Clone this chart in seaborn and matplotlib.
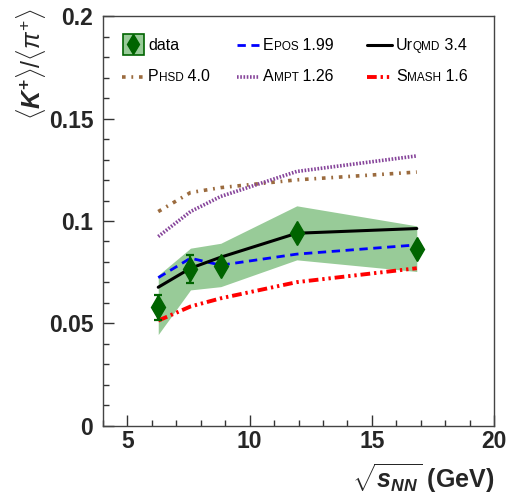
import numpy as np
import pandas as pd
import matplotlib
matplotlib.use("Agg")
import matplotlib.pyplot as plt
import seaborn as sns
from matplotlib.ticker import MultipleLocator, FuncFormatter
from matplotlib.offsetbox import TextArea, HPacker, AnnotationBbox
from matplotlib.patches import Rectangle

# beam energies (sqrt s_NN, GeV) as placed in the picture
energy = [6.26, 7.58, 8.82, 11.93, 16.84]

# measured K+/pi+ with stat errors and systematic band
data_ratio = [0.0578, 0.0764, 0.0782, 0.0940, 0.0864]
data_stat = [0.0060, 0.0068, 0.0015, 0.0015, 0.0015]
band_low = [0.0445, 0.0663, 0.0679, 0.0810, 0.0753]
band_high = [0.0735, 0.0867, 0.0891, 0.1074, 0.0976]

# model curves
urqmd = [0.0676, 0.0769, 0.0823, 0.0940, 0.0963]
epos = [0.0723, 0.0818, 0.0784, 0.0838, 0.0883]
smash = [0.0513, 0.0582, 0.0622, 0.0701, 0.0769]
phsd = [0.1046, 0.1139, 0.1163, 0.1201, 0.1239]
ampt = [0.0924, 0.1046, 0.1120, 0.1242, 0.1318]

sns.set_style("ticks")
plt.rcParams['font.family'] = ['Liberation Sans', 'DejaVu Sans']
plt.rcParams['mathtext.fontset'] = 'custom'
plt.rcParams['mathtext.rm'] = 'Liberation Sans'
plt.rcParams['mathtext.it'] = 'Liberation Sans:italic'
plt.rcParams['mathtext.bf'] = 'Liberation Sans:bold'
plt.rcParams['mathtext.bfit'] = 'Liberation Sans:italic:bold'

fig = plt.figure(figsize=(5.1, 4.96), dpi=100)
ax = fig.add_axes([0.202, 0.142, 0.7666, 0.825])

band_green = '#98cb98'
dark_green = '#006400'

ax.fill_between(energy, band_low, band_high, color=band_green, lw=0, zorder=1)

models = pd.DataFrame({'energy': energy, 'urqmd': urqmd, 'epos': epos,
                       'smash': smash, 'phsd': phsd, 'ampt': ampt})
styles = {
    'phsd': dict(color='#9b6b3e', lw=2.6, ls=(0, (1.0, 1.6, 0.5, 1.6))),
    'ampt': dict(color='#86449a', lw=2.6, ls=(0, (0.45, 0.45))),
    'smash': dict(color='#ff0000', lw=2.8, ls=(0, (2.5, 1.0, 0.6, 1.0, 0.6, 1.0))),
    'epos': dict(color='#0000ff', lw=2.0, ls=(0, (3.0, 2.0))),
    'urqmd': dict(color='black', lw=2.2, ls='-'),
}
for key, st in styles.items():
    sns.lineplot(data=models, x='energy', y=key, ax=ax, estimator=None, sort=False,
                 color=st['color'], lw=st['lw'], zorder=2)
    ax.lines[-1].set_linestyle(st['ls'])

ax.errorbar(energy, data_ratio, yerr=data_stat, fmt='d', color=dark_green,
            ms=12, capsize=3, elinewidth=1.6, capthick=1.6, zorder=4)

ax.set_xlim(4, 20)
ax.set_ylim(0, 0.2)
ax.xaxis.set_major_locator(MultipleLocator(5))
ax.xaxis.set_minor_locator(MultipleLocator(1))
ax.yaxis.set_major_locator(MultipleLocator(0.05))
ax.yaxis.set_minor_locator(MultipleLocator(0.01))
ax.yaxis.set_major_formatter(FuncFormatter(lambda v, p: '%g' % round(v, 3)))
ax.tick_params(which='both', direction='in', top=False, right=False,
               labelsize=16.5, width=1, color='#333333')
ax.tick_params(which='major', length=8)
ax.tick_params(which='minor', length=4)
ax.tick_params(axis='y', which='major', pad=7)
for lab in ax.get_xticklabels() + ax.get_yticklabels():
    lab.set_fontweight('bold')
for sp in ax.spines.values():
    sp.set_color('#444444')
    sp.set_linewidth(1)

ax.set_xlabel(r'$\sqrt{\mathbfit{s}_{\mathbfit{NN}}}$ (GeV)', fontsize=18,
              fontweight='bold', loc='right')
ax.set_ylabel(r'$\langle\mathbfit{K}^{\mathbf{+}}\rangle/\langle\pi^{+}\rangle$',
              fontsize=18, loc='top')
ax.yaxis.set_label_coords(-0.14, 1.02)
ax.xaxis.set_label_coords(1.0, -0.088)

# legend drawn by hand: small-caps model names
def entry_label(parts, x, y):
    boxes = [TextArea(t, textprops=dict(size=s, color='black')) for t, s in parts]
    pack = HPacker(children=boxes, align='baseline', pad=0, sep=0)
    ab = AnnotationBbox(pack, (x, y), xycoords='axes fraction', box_alignment=(0, 0.5),
                        frameon=False, pad=0)
    ax.add_artist(ab)

big, small = 11.5, 8.5
row1, row2 = 0.930, 0.852
cols = [(0.048, 0.105, 0.115), (0.342, 0.399, 0.409), (0.674, 0.739, 0.749)]

ax.add_patch(Rectangle((0.050, 0.906), 0.055, 0.052, transform=ax.transAxes,
                       facecolor=band_green, edgecolor=dark_green, lw=1.2, zorder=5))
ax.plot([0.0775], [0.932], 'd', color=dark_green, ms=10, transform=ax.transAxes, zorder=6)
entry_label([('data', big)], cols[0][2], row1)

legend_rows = [
    ('epos', cols[1], row1, [('E', big), ('POS', small), (' 1.99', big)]),
    ('urqmd', cols[2], row1, [('Ur', big), ('QMD', small), (' 3.4', big)]),
    ('phsd', cols[0], row2, [('P', big), ('HSD', small), (' 4.0', big)]),
    ('ampt', cols[1], row2, [('A', big), ('MPT', small), (' 1.26', big)]),
    ('smash', cols[2], row2, [('S', big), ('MASH', small), (' 1.6', big)]),
]
for key, (x0, x1, xt), yy, parts in legend_rows:
    st = styles[key]
    ax.plot([x0, x1], [yy, yy], color=st['color'], lw=st['lw'], ls=st['ls'],
            transform=ax.transAxes, zorder=5)
    entry_label(parts, xt, yy)

fig.savefig('out.png', dpi=100)
